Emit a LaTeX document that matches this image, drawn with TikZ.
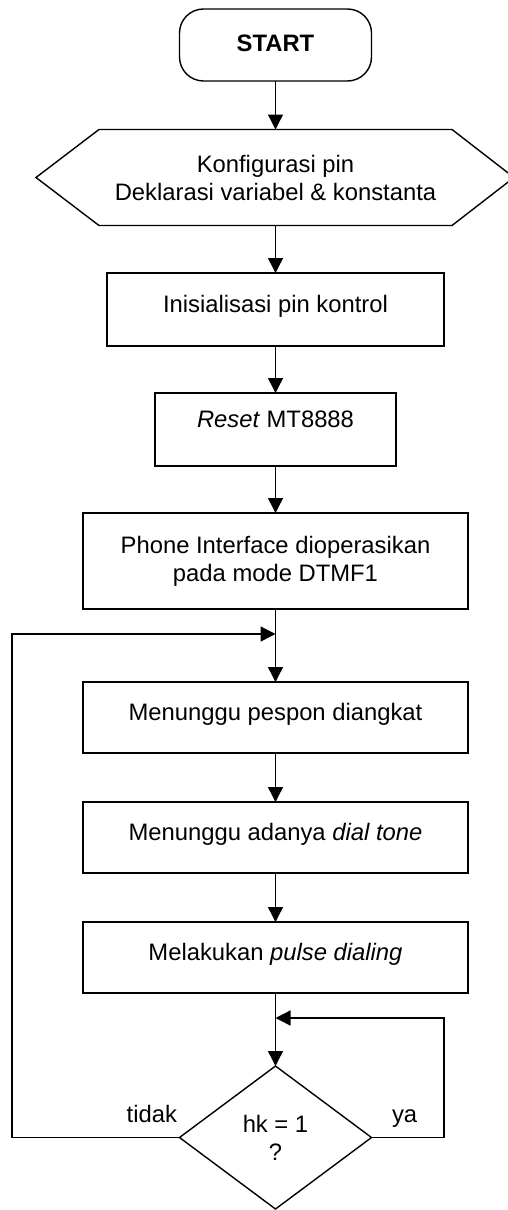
\documentclass[tikz,border=0pt]{standalone}
\usepackage{fontspec}
\setmainfont{Liberation Sans}
\usetikzlibrary{arrows.meta}
\begin{document}
\begin{tikzpicture}[x=1pt,y=-1pt,
  every node/.style={font=\fontsize{23.8}{28}\selectfont, outer sep=0pt, inner sep=0pt},
  ln/.style={line width=1.4pt},
  arr/.style={line width=1.4pt, -{Triangle[width=15pt,length=15pt]}},
  box/.style={draw, line width=1.4pt},
  oneline/.style={text height=17pt, text depth=11pt},
  pill/.style={draw, line width=1.4pt, rounded corners=24pt, minimum width=192pt, minimum height=72pt, text height=17pt, text depth=5pt}
]
\useasboundingbox (0,0) rectangle (508,1210);

\node[pill, font=\fontsize{23.8}{28}\selectfont\bfseries] (start) at (275.5,45) {START};
\node[minimum width=353pt, minimum height=96pt, align=center] (hex) at (275.5,177.5) {Konfigurasi pin\\Deklarasi variabel \& konstanta};
\draw[ln] (hex.north west) -- (hex.north east) -- ([xshift=62pt]hex.east) -- (hex.south east) -- (hex.south west) -- ([xshift=-63pt]hex.west) -- cycle;

\node[box, oneline, minimum width=337pt, minimum height=73pt] (b1) at (275.5,309.5) {Inisialisasi pin kontrol};
\node[box, text height=17pt, text depth=21pt, minimum width=241pt, minimum height=73pt] (b2) at (275.5,429.5) {\textit{Reset} MT8888};
\node[box, align=center, minimum width=385pt, minimum height=96pt] (b3) at (275.5,561) {Phone Interface dioperasikan\\pada mode DTMF1};
\node[box, oneline, minimum width=385pt, minimum height=71pt] (b4) at (275.5,717.5) {Menunggu pespon diangkat};
\node[box, oneline, minimum width=385pt, minimum height=71pt] (b5) at (275.5,837.5) {Menunggu adanya \textit{dial tone}};
\node[box, oneline, minimum width=385pt, minimum height=71pt] (b6) at (275.5,957.5) {Melakukan \textit{pulse dialing}};

\node[minimum width=192pt, minimum height=143pt, align=center] (dia) at (275.5,1137.5) {hk = 1\\?};
\draw[ln] (dia.north) -- (dia.east) -- (dia.south) -- (dia.west) -- cycle;

\node[anchor=base east] (tidak) at (177,1122) {tidak};
\node[anchor=base west] (ya) at (392,1122) {ya};

\coordinate (j1) at (275.5,634);
\coordinate (lp) at (12,634);
\coordinate (j2) at (275.5,1018);
\coordinate (rp) at (444,1018);

\draw[arr] (start) -- (hex);
\draw[arr] (hex) -- (b1);
\draw[arr] (b1) -- (b2);
\draw[arr] (b2) -- (b3);
\draw[arr] (b3) -- (b4);
\draw[arr] (b4) -- (b5);
\draw[arr] (b5) -- (b6);
\draw[arr] (b6) -- (dia);
\draw[arr] (dia.west) -| (lp) -- (j1);
\draw[arr] (dia.east) -| (rp) -- (j2);
\end{tikzpicture}
\end{document}
